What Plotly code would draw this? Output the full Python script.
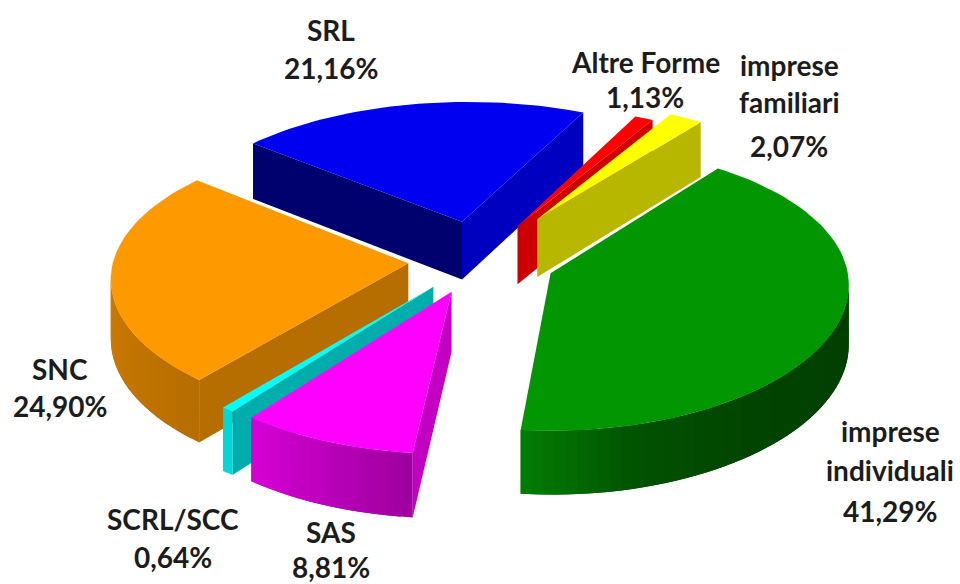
import math
import plotly.graph_objects as go

# ---- data ----
categories = ["imprese individuali", "SAS", "SCRL/SCC", "SNC", "SRL", "Altre Forme", "imprese familiari"]
values = [41.29, 8.81, 0.64, 24.90, 21.16, 1.13, 2.07]
label_lines = [["imprese", "individuali"], ["SAS"], ["SCRL/SCC"], ["SNC"], ["SRL"], ["Altre Forme"], ["imprese", "familiari"]]

# ---- style ----
top_colors = ["#039603", "#ff00ff", "#00ffff", "#ff9900", "#0000f0", "#ff0000", "#ffff00"]
cut_start_shade = [0.7, 0.76, 0.68, 0.72, 0.46, 0.8, 0.72]   # clockwise-leading face
cut_end_shade = [0.7, 0.76, 0.68, 0.72, 0.8, 0.8, 0.72]      # clockwise-trailing face
wall_stops = [
    [(36, .42), (100, .42), (140, .45), (165, .55), (186, .85)],
    [(186, .62), (200, .72), (218, .85)],
    [(218, .85), (220, .85)],
    [(220, .72), (260, .8), (310, .85)],
    [(310, .5), (386, .6)],
    [(386, .8), (391, .8)],
    [(391, .72), (397, .72)],
]
explode = [0.26, 0.24, 0.24, 0.24, 0.29, 0.28, 0.36]
draw_order = [4, 5, 6, 3, 0, 2, 1]
label_y = [[431, 470, 511], [532, 567], [519, 557], [369, 406], [30, 68], [62, 97], [65, 102, 146]]
label_x = [890, 331, 173, 60, 331, 645, 789]
START_DEG, CX, CY, RX, RY = 36.9, 479, 260, 295, 139
PERSP_X, PERSP_Y, PERSP_Z, SHEAR, HEIGHT = 0.08, 0.10, 0.07, 5, 59
FONT = "Lato, Carlito, Calibri, sans-serif"
TEXT = "#1c1c1c"


def project(X, Y, z=0.0):
    return (CX + RX * X / (1 + PERSP_X * Y) + SHEAR * Y,
            CY - RY * Y / (1 + PERSP_Y * Y) + z / (1 + PERSP_Z * Y))


def shade(color, k):
    r, g, b = (int(color[i:i + 2], 16) for i in (1, 3, 5))
    return f"rgb({int(r * k)},{int(g * k)},{int(b * k)})"


def area(pts):
    return sum(pts[i][0] * pts[(i + 1) % len(pts)][1] - pts[(i + 1) % len(pts)][0] * pts[i][1] for i in range(len(pts)))


def interp(stops, a):
    if a <= stops[0][0]:
        return stops[0][1]
    for (a0, v0), (a1, v1) in zip(stops, stops[1:]):
        if a <= a1:
            return v0 + (v1 - v0) * (a - a0) / (a1 - a0)
    return stops[-1][1]


fig = go.Figure()


def poly(pts, color):
    xs = [p[0] for p in pts] + [pts[0][0]]
    ys = [p[1] for p in pts] + [pts[0][1]]
    fig.add_trace(go.Scatter(x=xs, y=ys, mode="lines", fill="toself", fillcolor=color,
                             line=dict(color=color, width=0), hoverinfo="skip", showlegend=False))


# slice angle spans come straight from the values
total = sum(values)
spans = []
acc = START_DEG
for v in values:
    spans.append((acc, acc + v / total * 360))
    acc = spans[-1][1]


def rim(i, a_deg):
    a0, a1 = spans[i]
    mid = math.radians((a0 + a1) / 2)
    ox, oy = explode[i] * math.sin(mid), explode[i] * math.cos(mid)
    a = math.radians(a_deg)
    return ox + math.sin(a), oy + math.cos(a), ox, oy


for i in draw_order:
    a0, a1 = spans[i]
    col = top_colors[i]
    n = max(2, int((a1 - a0) / 2))
    angles = [a0 + (a1 - a0) * k / n for k in range(n + 1)]
    pts3 = [rim(i, a)[:2] for a in angles]
    ox, oy = rim(i, a0)[2:]
    apex_t, apex_b = project(ox, oy), project(ox, oy, HEIGHT)
    # cut faces
    s_t, s_b = project(*pts3[0]), project(*pts3[0], HEIGHT)
    e_t, e_b = project(*pts3[-1]), project(*pts3[-1], HEIGHT)
    face_s = [apex_t, s_t, s_b, apex_b]
    face_e = [e_t, apex_t, apex_b, e_b]
    if area(face_s) < 0:
        poly(face_s, shade(col, cut_start_shade[i]))
    if area(face_e) < 0:
        poly(face_e, shade(col, cut_end_shade[i]))
    # rim wall: each step overlaps the next one so no seams appear
    for k in range(n):
        nxt = min(k + 2, n)
        q = [project(*pts3[k]), project(*pts3[nxt]), project(*pts3[nxt], HEIGHT), project(*pts3[k], HEIGHT)]
        if area(q) < 0:
            poly(q, shade(col, interp(wall_stops[i], (angles[k] + angles[k + 1]) / 2)))
    # top face
    poly([apex_t] + [project(*p) for p in pts3], col)

annotations = []
for i, lines in enumerate(label_lines):
    texts = lines + [f"{values[i]:.2f}%".replace(".", ",")]
    for t, y in zip(texts, label_y[i]):
        annotations.append(dict(x=label_x[i], y=y, text=f"<b>{t}</b>", showarrow=False, xanchor="center",
                                yanchor="middle", font=dict(family=FONT, size=28, color=TEXT)))

fig.update_layout(
    width=960, height=584, margin=dict(l=0, r=0, t=0, b=0), paper_bgcolor="white", plot_bgcolor="white",
    xaxis=dict(range=[0, 960], visible=False, fixedrange=True),
    yaxis=dict(range=[584, 0], visible=False, fixedrange=True),
    annotations=annotations, showlegend=False,
)
fig.write_html("out.html", config={"displayModeBar": False},
               post_script="document.body.style.margin='0';document.documentElement.style.overflow='hidden';")
